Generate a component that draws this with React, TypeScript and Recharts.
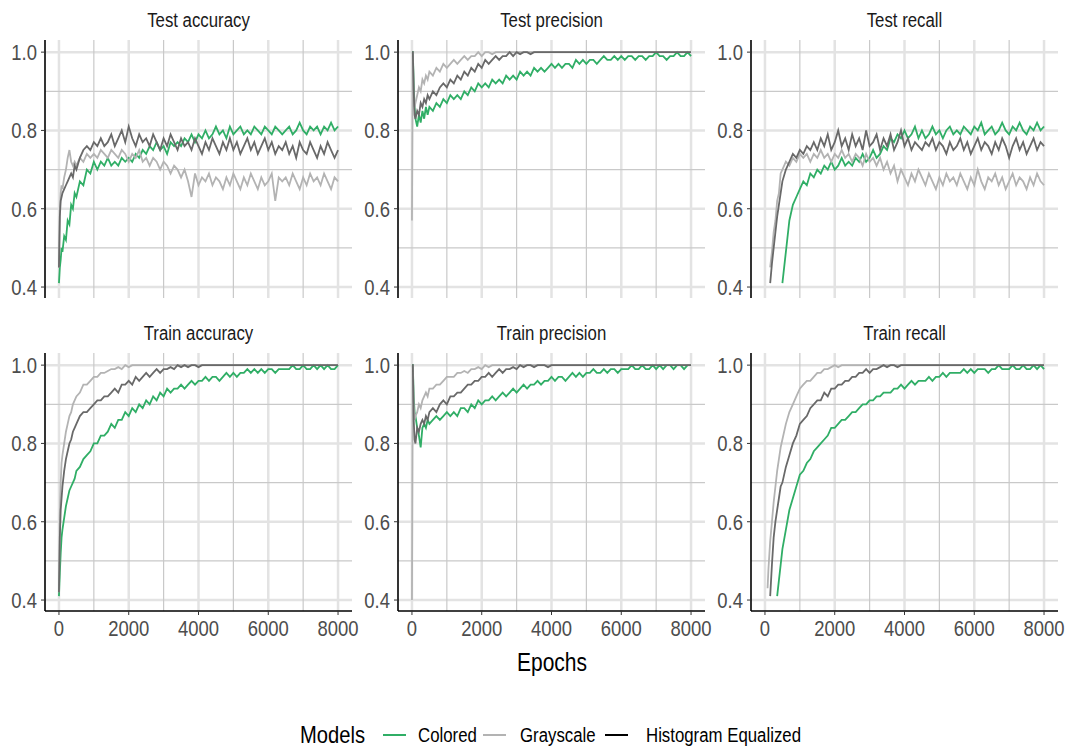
import { CartesianGrid, Line, LineChart, XAxis, YAxis } from 'recharts';

const FONT = '"Liberation Sans", Arial, sans-serif';
// the reference uses a condensed face; squeeze the regular one horizontally
const SQUEEZE = 0.84;

const GREEN = '#30ae66';
const LIGHT = '#b3b3b3';
const DARK = '#696969';

// epochs sampled for every series (dense at the start, where things move fast)
const EPOCHS = [
  0, 25, 50, 75, 100, 150, 200, 250, 300, 350, 400, 450,
  500, 600, 700, 800, 900, 1000, 1100, 1200, 1300, 1400,
  1500, 1600, 1700, 1800, 1900, 2000, 2100, 2200, 2300, 2400,
  2500, 2600, 2700, 2800, 2900, 3000, 3100, 3200, 3300, 3400,
  3500, 3600, 3700, 3800, 3900, 4000, 4100, 4200, 4300, 4400,
  4500, 4600, 4700, 4800, 4900, 5000, 5100, 5200, 5300, 5400,
  5500, 5600, 5700, 5800, 5900, 6000, 6100, 6200, 6300, 6400,
  6500, 6600, 6700, 6800, 6900, 7000, 7100, 7200, 7300, 7400,
  7500, 7600, 7700, 7800, 7900, 8000,
];

const X_TICKS = [0, 2000, 4000, 6000, 8000];
const X_MINOR = [1000, 3000, 5000, 7000];
const Y_TICKS = [0.4, 0.6, 0.8, 1.0];
const Y_MINOR = [0.5, 0.7, 0.9];

// ---- Test accuracy
const TEST_ACC_COLORED = [
  0.41, 0.45, 0.47, 0.5, 0.49, 0.53, 0.52, 0.57, 0.56, 0.61, 0.6, 0.64,
  0.63, 0.67, 0.66, 0.7, 0.69, 0.72, 0.7, 0.72, 0.71, 0.73,
  0.71, 0.72, 0.71, 0.73, 0.72, 0.73, 0.72, 0.74, 0.73, 0.75,
  0.74, 0.76, 0.75, 0.77, 0.75, 0.76, 0.74, 0.77, 0.76, 0.77,
  0.76, 0.78, 0.77, 0.79, 0.77, 0.79, 0.78, 0.8, 0.78, 0.79,
  0.81, 0.79, 0.8, 0.78, 0.81, 0.79, 0.8, 0.81, 0.79, 0.8,
  0.79, 0.81, 0.8, 0.79, 0.81, 0.8, 0.79, 0.81, 0.8, 0.79,
  0.8, 0.81, 0.79, 0.8, 0.82, 0.8, 0.79, 0.81, 0.8, 0.81,
  0.79, 0.81, 0.8, 0.82, 0.8, 0.81,
];
const TEST_ACC_GRAY = [
  0.45, 0.6, 0.64, 0.66, 0.65, 0.68, 0.7, 0.73, 0.75, 0.72, 0.71, 0.72,
  0.71, 0.73, 0.72, 0.74, 0.73, 0.74, 0.73, 0.75, 0.74, 0.73,
  0.75, 0.74, 0.73, 0.75, 0.74, 0.72, 0.74, 0.73, 0.75, 0.72,
  0.73, 0.71, 0.73, 0.72, 0.7, 0.72, 0.71, 0.69, 0.71, 0.7,
  0.68, 0.7, 0.67, 0.63, 0.69, 0.66, 0.68, 0.67, 0.69, 0.66,
  0.68, 0.67, 0.65, 0.68, 0.66, 0.69, 0.67, 0.65, 0.68, 0.66,
  0.69, 0.67, 0.65, 0.68, 0.66, 0.67, 0.69, 0.62, 0.68, 0.67,
  0.68, 0.66, 0.69, 0.67, 0.65, 0.68, 0.66, 0.69, 0.67, 0.68,
  0.66, 0.69, 0.67, 0.65, 0.68, 0.67,
];
const TEST_ACC_HIST = [
  0.45, 0.58, 0.62, 0.63, 0.64, 0.65, 0.66, 0.67, 0.68, 0.69, 0.68, 0.71,
  0.7, 0.73, 0.75, 0.76, 0.75, 0.77, 0.76, 0.78, 0.76, 0.77,
  0.79, 0.76, 0.78, 0.8, 0.77, 0.81, 0.78, 0.76, 0.79, 0.77,
  0.78, 0.76, 0.79, 0.77, 0.75, 0.78, 0.76, 0.79, 0.77, 0.75,
  0.78, 0.76, 0.77, 0.75, 0.78, 0.76, 0.74, 0.77, 0.75, 0.78,
  0.76, 0.74, 0.77, 0.75, 0.78, 0.75, 0.77, 0.74, 0.76, 0.78,
  0.75, 0.77, 0.74, 0.76, 0.78, 0.75, 0.77, 0.74, 0.76, 0.75,
  0.77, 0.74, 0.76, 0.73, 0.77, 0.75, 0.74, 0.77, 0.75, 0.73,
  0.76, 0.74, 0.77, 0.75, 0.73, 0.75,
];

// ---- Test precision
const TEST_PREC_COLORED = [
  1, 1, 0.92, 0.86, 0.83, 0.81, 0.84, 0.82, 0.85, 0.83, 0.86, 0.84,
  0.86, 0.85, 0.87, 0.86, 0.88, 0.87, 0.89, 0.88, 0.89, 0.88,
  0.9, 0.89, 0.91, 0.9, 0.92, 0.91, 0.92, 0.91, 0.93, 0.92,
  0.93, 0.92, 0.94, 0.93, 0.94, 0.93, 0.95, 0.94, 0.95, 0.94,
  0.96, 0.95, 0.96, 0.95, 0.96, 0.97, 0.96, 0.97, 0.96, 0.97,
  0.97, 0.96, 0.98, 0.97, 0.98, 0.97, 0.98, 0.98, 0.97, 0.98,
  0.99, 0.98, 0.98, 0.99, 0.98, 0.99, 0.98, 0.99, 0.99, 0.98,
  0.99, 0.99, 0.98, 0.99, 0.99, 1, 0.99, 0.99, 0.98, 0.99,
  0.99, 1, 0.99, 0.99, 1, 0.99,
];
const TEST_PREC_GRAY = [
  0.57, 1, 0.88, 0.86, 0.87, 0.89, 0.91, 0.9, 0.93, 0.92, 0.94, 0.93,
  0.95, 0.94, 0.96, 0.95, 0.97, 0.96, 0.97, 0.98, 0.97, 0.98,
  0.99, 0.98, 0.99, 0.99, 1, 0.99, 1, 1, 0.995, 1,
  1, 1, 1, 1, 1, 1, 1, 1, 1, 1,
  1, 1, 1, 1, 1, 1, 1, 1, 1, 1,
  1, 1, 1, 1, 1, 1, 1, 1, 1, 1,
  1, 1, 1, 1, 1, 1, 1, 1, 1, 1,
  1, 1, 1, 1, 1, 1, 1, 1, 1, 1,
  1, 1, 1, 1, 1, 1,
];
const TEST_PREC_HIST = [
  1, 1, 0.9, 0.84, 0.83, 0.85, 0.84, 0.87, 0.86, 0.88, 0.87, 0.89,
  0.88, 0.9, 0.89, 0.91, 0.92, 0.91, 0.93, 0.92, 0.94, 0.93,
  0.95, 0.94, 0.96, 0.95, 0.97, 0.96, 0.98, 0.97, 0.98, 0.99,
  0.98, 0.99, 0.99, 1, 0.99, 1, 0.995, 1, 1, 0.995,
  1, 1, 1, 1, 1, 1, 1, 1, 1, 1,
  1, 1, 1, 1, 1, 1, 1, 1, 1, 1,
  1, 1, 1, 1, 1, 1, 1, 1, 1, 1,
  1, 1, 1, 1, 1, 1, 1, 1, 1, 1,
  1, 1, 1, 1, 1, 1,
];

// ---- Test recall
const TEST_REC_COLORED = [
  null, null, null, null, null, null, null, null, null, null, null, null,
  0.41, 0.49, 0.57, 0.61, 0.63, 0.65, 0.67, 0.66, 0.69, 0.68,
  0.7, 0.69, 0.71, 0.7, 0.72, 0.7, 0.71, 0.73, 0.71, 0.72,
  0.71, 0.73, 0.72, 0.74, 0.72, 0.73, 0.75, 0.73, 0.74, 0.76,
  0.75, 0.78, 0.77, 0.79, 0.78, 0.8, 0.78, 0.79, 0.81, 0.78,
  0.8, 0.78, 0.79, 0.81, 0.79, 0.8, 0.78, 0.8, 0.81, 0.79,
  0.8, 0.79, 0.81, 0.8, 0.79, 0.81, 0.8, 0.82, 0.79, 0.8,
  0.81, 0.79, 0.8, 0.82, 0.8, 0.79, 0.81, 0.8, 0.82, 0.8,
  0.79, 0.81, 0.8, 0.82, 0.8, 0.81,
];
const TEST_REC_GRAY = [
  null, null, null, null, null, 0.45, 0.49, 0.54, 0.57, 0.62, 0.64, 0.69,
  0.7, 0.72, 0.71, 0.73, 0.72, 0.74, 0.73, 0.74, 0.72, 0.74,
  0.73, 0.75, 0.73, 0.74, 0.72, 0.74, 0.73, 0.75, 0.73, 0.74,
  0.72, 0.74, 0.73, 0.71, 0.74, 0.72, 0.73, 0.71, 0.73, 0.7,
  0.72, 0.69, 0.71, 0.67, 0.7, 0.68, 0.66, 0.69, 0.67, 0.7,
  0.68, 0.66, 0.69, 0.67, 0.65, 0.68, 0.66, 0.69, 0.67, 0.68,
  0.66, 0.69, 0.67, 0.65, 0.68, 0.66, 0.7, 0.67, 0.65, 0.68,
  0.67, 0.69, 0.66, 0.68, 0.65, 0.67, 0.69, 0.66, 0.68, 0.67,
  0.65, 0.68, 0.66, 0.69, 0.67, 0.66,
];
const TEST_REC_HIST = [
  null, null, null, null, null, 0.41, 0.46, 0.5, 0.54, 0.58, 0.61, 0.64,
  0.67, 0.7, 0.72, 0.74, 0.73, 0.75, 0.74, 0.76, 0.75, 0.77,
  0.75, 0.78, 0.76, 0.79, 0.75, 0.77, 0.8, 0.76, 0.78, 0.75,
  0.79, 0.76, 0.78, 0.75, 0.8, 0.76, 0.77, 0.79, 0.75, 0.78,
  0.76, 0.79, 0.75, 0.77, 0.8, 0.76, 0.78, 0.75, 0.77, 0.76,
  0.75, 0.77, 0.76, 0.78, 0.75, 0.77, 0.76, 0.74, 0.77, 0.75,
  0.76, 0.78, 0.75, 0.77, 0.74, 0.76, 0.78, 0.75, 0.77, 0.76,
  0.74, 0.77, 0.75, 0.78, 0.76, 0.73, 0.76, 0.78, 0.75, 0.77,
  0.74, 0.76, 0.78, 0.75, 0.77, 0.76,
];

// ---- Train accuracy
const TRAIN_ACC_COLORED = [
  0.41, 0.47, 0.52, 0.56, 0.58, 0.61, 0.64, 0.66, 0.68, 0.69, 0.7, 0.71,
  0.73, 0.74, 0.76, 0.77, 0.78, 0.8, 0.8, 0.82, 0.82, 0.83,
  0.85, 0.84, 0.86, 0.86, 0.88, 0.87, 0.89, 0.88, 0.9, 0.89,
  0.91, 0.9, 0.92, 0.91, 0.93, 0.92, 0.94, 0.93, 0.94, 0.94,
  0.95, 0.94, 0.95, 0.96, 0.95, 0.96, 0.96, 0.97, 0.96, 0.97,
  0.97, 0.96, 0.97, 0.98, 0.97, 0.98, 0.97, 0.98, 0.98, 0.99,
  0.98, 0.99, 0.98, 0.99, 0.98, 0.99, 0.99, 0.98, 0.99, 0.99,
  0.99, 0.99, 1, 0.99, 0.99, 1, 0.99, 0.99, 1, 0.99,
  1, 0.99, 1, 0.99, 0.99, 1,
];
const TRAIN_ACC_GRAY = [
  0.42, 0.62, 0.7, 0.75, 0.77, 0.8, 0.83, 0.85, 0.87, 0.88, 0.9, 0.91,
  0.92, 0.93, 0.95, 0.95, 0.96, 0.97, 0.97, 0.98, 0.98, 0.985,
  0.99, 0.99, 0.995, 0.99, 1, 0.995, 1, 1, 1, 1,
  1, 1, 1, 1, 1, 1, 1, 1, 1, 1,
  1, 1, 1, 1, 1, 1, 1, 1, 1, 1,
  1, 1, 1, 1, 1, 1, 1, 1, 1, 1,
  1, 1, 1, 1, 1, 1, 1, 1, 1, 1,
  1, 1, 1, 1, 1, 1, 1, 1, 1, 1,
  1, 1, 1, 1, 1, 1,
];
const TRAIN_ACC_HIST = [
  0.42, 0.56, 0.63, 0.66, 0.69, 0.73, 0.76, 0.78, 0.8, 0.81, 0.83, 0.84,
  0.85, 0.87, 0.88, 0.88, 0.89, 0.9, 0.91, 0.91, 0.92, 0.92,
  0.93, 0.94, 0.93, 0.95, 0.95, 0.96, 0.95, 0.97, 0.96, 0.97,
  0.98, 0.97, 0.98, 0.99, 0.98, 0.99, 0.99, 0.995, 0.99, 1,
  0.995, 1, 0.995, 1, 1, 0.995, 1, 1, 1, 1,
  1, 1, 1, 1, 1, 1, 1, 1, 1, 1,
  1, 1, 1, 1, 1, 1, 1, 1, 1, 1,
  1, 1, 1, 1, 1, 1, 1, 1, 1, 1,
  1, 1, 1, 1, 1, 1,
];

// ---- Train precision
const TRAIN_PREC_COLORED = [
  1, 1, 0.92, 0.88, 0.87, 0.84, 0.82, 0.79, 0.84, 0.85, 0.84, 0.86,
  0.85, 0.86, 0.87, 0.86, 0.87, 0.88, 0.87, 0.88, 0.87, 0.89,
  0.89, 0.88, 0.9, 0.89, 0.91, 0.9, 0.91, 0.91, 0.92, 0.91,
  0.92, 0.93, 0.92, 0.93, 0.94, 0.93, 0.94, 0.95, 0.94, 0.95,
  0.95, 0.96, 0.95, 0.96, 0.96, 0.97, 0.96, 0.97, 0.97, 0.96,
  0.97, 0.98, 0.97, 0.98, 0.97, 0.98, 0.98, 0.99, 0.98, 0.98,
  0.99, 0.98, 0.99, 0.99, 0.98, 0.99, 0.99, 0.99, 1, 0.99,
  0.99, 1, 0.99, 0.99, 1, 0.99, 1, 0.99, 1, 1,
  0.99, 1, 1, 0.99, 1, 1,
];
const TRAIN_PREC_GRAY = [
  0.4, 1, 0.9, 0.86, 0.87, 0.88, 0.9, 0.89, 0.91, 0.92, 0.93, 0.92,
  0.94, 0.94, 0.95, 0.95, 0.96, 0.97, 0.97, 0.97, 0.98, 0.98,
  0.985, 0.98, 0.99, 0.99, 0.995, 0.99, 1, 0.995, 1, 1,
  1, 1, 1, 1, 1, 1, 1, 1, 1, 1,
  1, 1, 1, 1, 1, 1, 1, 1, 1, 1,
  1, 1, 1, 1, 1, 1, 1, 1, 1, 1,
  1, 1, 1, 1, 1, 1, 1, 1, 1, 1,
  1, 1, 1, 1, 1, 1, 1, 1, 1, 1,
  1, 1, 1, 1, 1, 1,
];
const TRAIN_PREC_HIST = [
  1, 1, 0.86, 0.81, 0.8, 0.84, 0.83, 0.85, 0.86, 0.85, 0.87, 0.86,
  0.88, 0.89, 0.88, 0.9, 0.91, 0.9, 0.92, 0.92, 0.93, 0.93,
  0.94, 0.95, 0.95, 0.96, 0.96, 0.97, 0.97, 0.98, 0.97, 0.98,
  0.99, 0.98, 0.99, 0.99, 0.995, 0.99, 1, 0.995, 1, 1,
  0.995, 1, 1, 1, 0.995, 1, 1, 1, 1, 1,
  1, 1, 1, 1, 1, 1, 1, 1, 1, 1,
  1, 1, 1, 1, 1, 1, 1, 1, 1, 1,
  1, 1, 1, 1, 1, 1, 1, 1, 1, 1,
  1, 1, 1, 1, 1, 1,
];

// ---- Train recall
const TRAIN_REC_COLORED = [
  null, null, null, null, null, null, null, null, null, 0.41, 0.45, 0.49,
  0.53, 0.58, 0.63, 0.66, 0.69, 0.72, 0.73, 0.75, 0.76, 0.78,
  0.79, 0.8, 0.81, 0.82, 0.84, 0.84, 0.85, 0.86, 0.86, 0.87,
  0.88, 0.88, 0.89, 0.9, 0.9, 0.91, 0.91, 0.92, 0.92, 0.93,
  0.93, 0.93, 0.94, 0.94, 0.95, 0.94, 0.95, 0.96, 0.95, 0.96,
  0.96, 0.96, 0.97, 0.96, 0.97, 0.97, 0.98, 0.97, 0.98, 0.98,
  0.98, 0.98, 0.99, 0.98, 0.99, 0.98, 0.99, 0.99, 0.99, 0.98,
  0.99, 0.99, 1, 0.99, 0.99, 0.99, 1, 0.99, 0.99, 1,
  0.99, 0.99, 1, 0.99, 1, 0.99,
];
const TRAIN_REC_GRAY = [
  null, null, null, 0.43, 0.48, 0.55, 0.6, 0.65, 0.69, 0.73, 0.76, 0.79,
  0.81, 0.85, 0.88, 0.9, 0.92, 0.94, 0.95, 0.96, 0.96, 0.97,
  0.98, 0.98, 0.99, 0.99, 0.995, 1, 0.995, 1, 1, 1,
  1, 1, 1, 1, 1, 1, 1, 1, 1, 1,
  1, 1, 1, 1, 1, 1, 1, 1, 1, 1,
  1, 1, 1, 1, 1, 1, 1, 1, 1, 1,
  1, 1, 1, 1, 1, 1, 1, 1, 1, 1,
  1, 1, 1, 1, 1, 1, 1, 1, 1, 1,
  1, 1, 1, 1, 1, 1,
];
const TRAIN_REC_HIST = [
  null, null, null, null, null, 0.41, 0.49, 0.56, 0.6, 0.63, 0.66, 0.69,
  0.7, 0.74, 0.77, 0.8, 0.82, 0.85, 0.86, 0.87, 0.89, 0.9,
  0.91, 0.91, 0.93, 0.92, 0.94, 0.94, 0.95, 0.95, 0.96, 0.96,
  0.97, 0.97, 0.98, 0.98, 0.99, 0.98, 0.99, 0.99, 0.995, 1,
  0.995, 1, 1, 0.995, 1, 1, 1, 1, 1, 1,
  1, 1, 1, 1, 1, 1, 1, 1, 1, 1,
  1, 1, 1, 1, 1, 1, 1, 1, 1, 1,
  1, 1, 1, 1, 1, 1, 1, 1, 1, 1,
  1, 1, 1, 1, 1, 1,
];

type Val = number | null;

function rows(colored: Val[], grayscale: Val[], hist: Val[]) {
  return EPOCHS.map((epoch, i) => ({ epoch, colored: colored[i], grayscale: grayscale[i], hist: hist[i] }));
}

const PANELS = [
  { title: 'Test accuracy', data: rows(TEST_ACC_COLORED, TEST_ACC_GRAY, TEST_ACC_HIST) },
  { title: 'Test precision', data: rows(TEST_PREC_COLORED, TEST_PREC_GRAY, TEST_PREC_HIST) },
  { title: 'Test recall', data: rows(TEST_REC_COLORED, TEST_REC_GRAY, TEST_REC_HIST) },
  { title: 'Train accuracy', data: rows(TRAIN_ACC_COLORED, TRAIN_ACC_GRAY, TRAIN_ACC_HIST) },
  { title: 'Train precision', data: rows(TRAIN_PREC_COLORED, TRAIN_PREC_GRAY, TRAIN_PREC_HIST) },
  { title: 'Train recall', data: rows(TRAIN_REC_COLORED, TRAIN_REC_GRAY, TRAIN_REC_HIST) },
];

// layout (px): left edge of each column's y axis, top of each row's plot
const COL_X = [45, 398, 751];
const ROW_Y = [40, 353];
const PLOT_W = 307;
const PLOT_H = 258;
const Y_AXIS_W = 45;
const PAD = 12;

function YTick({ x, y, payload }: any) {
  return (
    <g transform={`translate(${x},${y}) scale(${SQUEEZE},1)`}>
      <text textAnchor="end" dy="0.36em" fill="#4d4d4d" fontSize={22} fontFamily={FONT}>
        {Number(payload.value).toFixed(1)}
      </text>
    </g>
  );
}

function XTick({ x, y, payload }: any) {
  return (
    <g transform={`translate(${x},${y}) scale(${SQUEEZE},1)`}>
      <text textAnchor="middle" dy="0.71em" fill="#4d4d4d" fontSize={22} fontFamily={FONT}>
        {payload.value}
      </text>
    </g>
  );
}

function Panel({ title, data, col, row }: { title: string; data: any[]; col: number; row: number }) {
  const bottom = row === 1;
  const axisX = COL_X[col];
  const top = ROW_Y[row];
  return (
    <>
      <div
        style={{
          position: 'absolute',
          left: axisX,
          top: top - 33,
          width: PLOT_W,
          height: 26,
          lineHeight: '26px',
          textAlign: 'center',
          fontFamily: FONT,
          fontSize: 20,
          color: '#1a1a1a',
          transform: `scaleX(${SQUEEZE})`,
        }}
      >
        {title}
      </div>
      <div style={{ position: 'absolute', left: axisX - Y_AXIS_W, top: top - PAD }}>
        <LineChart
          width={Y_AXIS_W + PLOT_W + 25}
          height={PLOT_H + PAD + (bottom ? 40 : PAD)}
          data={data}
          margin={{ top: PAD, right: 25, bottom: bottom ? 0 : PAD, left: 0 }}
        >
          <CartesianGrid
            stroke="#e3e3e3"
            strokeWidth={2.5}
            horizontalValues={Y_TICKS}
            verticalValues={X_TICKS}
          />
          <CartesianGrid
            stroke="#c9c9c9"
            strokeWidth={1.2}
            horizontalValues={Y_MINOR}
            verticalValues={X_MINOR}
          />
          <XAxis
            dataKey="epoch"
            type="number"
            domain={[-400, 8400]}
            ticks={X_TICKS}
            interval={0}
            hide={!bottom}
            height={40}
            tickSize={4}
            tickMargin={5}
            axisLine={{ stroke: '#000', strokeWidth: 1.6 }}
            tickLine={{ stroke: '#333' }}
            tick={<XTick />}
          />
          <YAxis
            type="number"
            domain={[0.372, 1.031]}
            allowDataOverflow
            ticks={Y_TICKS}
            interval={0}
            width={Y_AXIS_W}
            tickSize={4}
            tickMargin={4}
            axisLine={{ stroke: '#000', strokeWidth: 1.6 }}
            tickLine={{ stroke: '#333' }}
            tick={<YTick />}
          />
          <Line type="linear" dataKey="colored" stroke={GREEN} strokeWidth={1.8} dot={false} isAnimationActive={false} />
          <Line type="linear" dataKey="grayscale" stroke={LIGHT} strokeWidth={1.8} dot={false} isAnimationActive={false} />
          <Line type="linear" dataKey="hist" stroke={DARK} strokeWidth={1.8} dot={false} isAnimationActive={false} />
        </LineChart>
      </div>
    </>
  );
}

const LEGEND = [
  { label: 'Colored', color: GREEN, x: 383, textX: 418 },
  { label: 'Grayscale', color: LIGHT, x: 483, textX: 520 },
  { label: 'Histogram Equalized', color: '#000', x: 605, textX: 646 },
];

const textStyle = {
  position: 'absolute' as const,
  fontFamily: FONT,
  color: '#000',
  whiteSpace: 'nowrap' as const,
  transformOrigin: '0 50%',
  transform: `scaleX(${SQUEEZE})`,
};

export default function App() {
  return (
    <div
      style={{
        position: 'fixed',
        left: 0,
        top: 0,
        width: 1069,
        height: 749,
        background: '#fff',
        overflow: 'hidden',
      }}
    >
      {PANELS.map((p, i) => (
        <Panel key={p.title} title={p.title} data={p.data} col={i % 3} row={Math.floor(i / 3)} />
      ))}
      <div
        style={{
          ...textStyle,
          left: 452,
          width: 200,
          top: 647,
          lineHeight: '30px',
          textAlign: 'center',
          fontSize: 25,
          transformOrigin: '50% 50%',
        }}
      >
        Epochs
      </div>
      <div style={{ ...textStyle, left: 300, top: 720, lineHeight: '30px', fontSize: 24 }}>Models</div>
      {LEGEND.map((l) => (
        <div key={l.label}>
          <div style={{ position: 'absolute', left: l.x, top: 734, width: 23, height: 2, background: l.color }} />
          <div style={{ ...textStyle, left: l.textX, top: 722, lineHeight: '26px', fontSize: 20 }}>{l.label}</div>
        </div>
      ))}
    </div>
  );
}
